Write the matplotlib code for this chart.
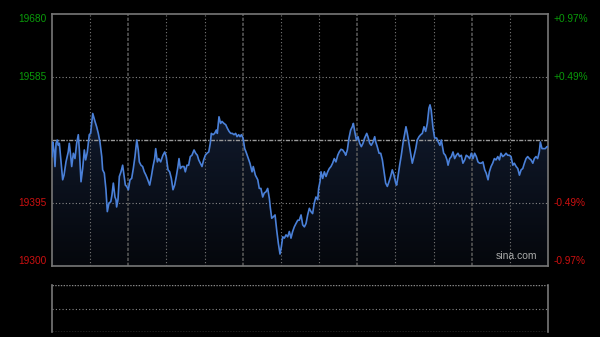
import numpy as np
import matplotlib
matplotlib.use("Agg")
import matplotlib.pyplot as plt
from matplotlib.patches import Polygon

# intraday index trace (minute offset, price)
minutes = [0, 0.5, 1.3, 2.0, 2.7, 3.5, 4.2, 4.9, 5.8, 7.1, 8.0, 9.3, 10.8, 11.5, 12.4, 13.1,
           14.2, 15.3, 16.4, 17.5, 18.2, 19.3, 20.4, 21.5, 22.4, 23.5, 24.8, 25.7, 27.1, 28.6,
           29.7, 30.8, 31.9, 33.1, 33.7, 34.8, 35.9, 36.8, 37.9, 39.1, 39.9, 40.8, 41.9, 42.6,
           43.0, 43.9, 44.8, 45.9, 47.0, 47.9, 48.8, 49.7, 50.8, 51.9, 53.0, 54.1, 55.2, 56.4,
           57.4, 58.1, 59.2, 60.3, 61.4, 62.5, 63.4, 65.0, 66.1, 67.2, 68.3, 69.0, 70.1, 71.0,
           72.3, 73.8, 75.0, 76.0, 77.2, 78.3, 79.4, 80.5, 81.6, 82.7, 83.8, 84.5, 85.4, 86.5,
           87.8, 88.7, 89.8, 90.9, 92.0, 93.1, 94.5, 95.6, 96.7, 97.6, 98.7, 99.8, 100.9, 102.0,
           103.1, 104.3, 105.3, 106.0, 107.1, 108.2, 109.3, 110.0, 111.1, 112.2, 113.1, 114.4,
           115.6, 116.6, 117.8, 118.9, 120.0, 121.1, 122.2, 123.1, 124.2, 125.1, 126.0, 127.1,
           128.2, 129.1, 130.2, 131.7, 133.1, 133.9, 135.3, 136.9, 137.9, 139.0, 140.2, 141.2,
           142.4, 143.5, 144.6, 145.2, 146.2, 147.2, 148.4, 149.5, 150.6, 151.7, 152.6, 153.5,
           154.6, 155.7, 156.8, 157.9, 159.0, 160.1, 161.2, 162.3, 163.5, 164.5, 165.7, 166.8,
           167.9, 169.0, 170.1, 171.2, 172.3, 173.4, 174.5, 175.6, 176.8, 177.4, 178.3, 179.0,
           180.1, 181.2, 182.3, 183.4, 184.5, 185.6, 186.7, 187.8, 188.9, 190.1, 191.1, 192.3,
           193.4, 194.9, 195.4, 196.5, 197.6, 198.7, 199.8, 200.5, 201.4, 202.5, 203.6, 204.7,
           205.8, 206.9, 208.0, 209.4, 210.2, 211.4, 212.4, 213.6, 214.7, 215.4, 216.4, 217.6,
           218.7, 219.8, 220.9, 222.0, 223.1, 224.2, 225.3, 226.4, 227.5, 228.7, 229.3, 230.2,
           231.3, 232.4, 233.5, 234.7, 235.5, 236.4, 237.5, 238.6, 239.7, 240.8, 242.0, 243.0,
           244.2, 245.3, 246.4, 247.5, 248.6, 249.7, 250.8, 251.5, 252.3, 253.5, 254.6, 255.9,
           257.0, 258.1, 259.0, 260.6, 261.7, 262.8, 263.5, 264.6, 265.7, 266.8, 267.9, 269.0,
           270.1, 271.2, 272.3, 273.4, 274.6, 275.6, 276.8, 277.9, 279.0, 280.1, 281.2, 282.3,
           283.4, 284.5, 285.6, 286.7, 287.9, 288.9, 290.1, 291.0, 292.1, 293.2, 294.3, 295.4,
           296.6, 297.7, 298.7, 299.9, 301.0, 302.1, 303.2, 304.3, 305.4, 306.6, 307.6, 308.8,
           309.9, 311.0, 312.1, 313.2, 314.3, 315.4, 316.5, 317.6, 318.7, 319.9, 320.9, 322.0,
           323.1, 324.2, 324.9, 326.0, 327.2, 328.2, 329.3, 330.0]
prices = [19465, 19487, 19475, 19450, 19485, 19490, 19482, 19485, 19462, 19430, 19437, 19457,
          19472, 19485, 19467, 19450, 19470, 19462, 19485, 19498, 19475, 19427, 19447, 19475,
          19460, 19472, 19498, 19500, 19530, 19518, 19510, 19500, 19487, 19465, 19445, 19440,
          19415, 19382, 19395, 19397, 19407, 19425, 19404, 19400, 19389, 19400, 19435, 19442,
          19452, 19437, 19422, 19420, 19415, 19430, 19432, 19447, 19465, 19490, 19475, 19457,
          19452, 19450, 19442, 19437, 19432, 19422, 19435, 19450, 19462, 19477, 19457, 19462,
          19457, 19467, 19472, 19465, 19445, 19442, 19432, 19415, 19422, 19435, 19450, 19462,
          19447, 19450, 19450, 19442, 19452, 19452, 19465, 19467, 19475, 19470, 19467, 19460,
          19455, 19450, 19460, 19467, 19470, 19472, 19485, 19500, 19498, 19500, 19505, 19500,
          19525, 19515, 19518, 19515, 19513, 19508, 19503, 19500, 19500, 19498, 19500, 19495,
          19498, 19495, 19498, 19493, 19477, 19472, 19465, 19455, 19442, 19450, 19437, 19430,
          19417, 19417, 19404, 19410, 19412, 19417, 19402, 19389, 19372, 19374, 19377, 19354,
          19334, 19318, 19329, 19344, 19342, 19347, 19344, 19352, 19342, 19352, 19359, 19364,
          19369, 19369, 19377, 19362, 19359, 19364, 19377, 19387, 19382, 19379, 19395, 19404,
          19400, 19417, 19427, 19442, 19432, 19442, 19435, 19442, 19447, 19450, 19455, 19462,
          19457, 19467, 19472, 19476, 19475, 19470, 19467, 19475, 19493, 19505, 19510, 19515,
          19503, 19490, 19495, 19485, 19480, 19485, 19493, 19500, 19495, 19485, 19482, 19487,
          19495, 19487, 19480, 19470, 19470, 19460, 19442, 19425, 19420, 19427, 19435, 19445,
          19437, 19425, 19422, 19435, 19452, 19467, 19485, 19500, 19510, 19500, 19485, 19470,
          19455, 19465, 19477, 19490, 19495, 19498, 19500, 19510, 19503, 19515, 19538, 19543,
          19535, 19508, 19493, 19493, 19487, 19482, 19490, 19470, 19467, 19460, 19452, 19462,
          19465, 19472, 19462, 19467, 19470, 19465, 19467, 19455, 19460, 19467, 19465, 19462,
          19470, 19462, 19470, 19465, 19457, 19455, 19455, 19457, 19445, 19440, 19430, 19442,
          19450, 19455, 19462, 19460, 19465, 19460, 19470, 19465, 19467, 19470, 19467, 19467,
          19465, 19452, 19455, 19450, 19447, 19437, 19445, 19447, 19455, 19462, 19465, 19462,
          19460, 19455, 19462, 19465, 19462, 19472, 19487, 19477, 19477, 19477, 19480, 19480]

prev_close = 19490
y_ticks = [19680, 19585, 19395, 19300]
y_labels = ["19680", "19585", "19395", "19300"]
pct_labels = ["+0.97%", "+0.49%", "-0.49%", "-0.97%"]
total_minutes = 330
n_cols = 13

fig = plt.figure(figsize=(6, 3.37), dpi=100, facecolor="black")
ax = fig.add_axes([52 / 600, 1 - 266 / 337, 496 / 600, 252 / 337])
ax.set_facecolor("black")
ax.set_xlim(0, total_minutes)
ax.set_ylim(19300, 19680)

# gradient fill under the line
grad = np.linspace(0, 1, 256).reshape(-1, 1)
img = ax.imshow(grad, extent=[0, total_minutes, 19300, max(prices)], aspect="auto",
                cmap=matplotlib.colors.LinearSegmentedColormap.from_list("g", ["#05070c", "#111b2e"]),
                origin="lower", zorder=1)
poly = Polygon(list(zip(minutes, prices)) + [(total_minutes, 19300), (0, 19300)],
               closed=True, facecolor="none", edgecolor="none")
ax.add_patch(poly)
img.set_clip_path(poly)

# grid
for k in range(1, n_cols):
    xk = total_minutes * k / n_cols
    if k % 3 == 2:
        ax.axvline(xk, color="#555555", lw=1.2, ls=(0, (2, 1)), zorder=2)
    else:
        ax.axvline(xk, color="#777777", lw=0.8, ls=(0, (1, 2)), zorder=2)
for yv in [19585, 19395]:
    ax.axhline(yv, color="#888888", lw=0.8, ls=(0, (1, 2)), zorder=2)
ax.axhline(prev_close, color="#999999", lw=1.0, ls=(0, (3, 1, 1, 1)), zorder=2)

ax.plot(minutes, prices, color="#4a80d8", lw=1.2, zorder=3)

for s in ax.spines.values():
    s.set_color("#777777")
    s.set_linewidth(1.2)
ax.set_xticks([])
ax.set_yticks([])

offsets = [-5, 0, 0, 5]
for v, lab, pl, off in zip(y_ticks, y_labels, pct_labels, offsets):
    col = "#0a9a0a" if v > prev_close else "#cc1010"
    ax.annotate(lab, (0, v), xycoords=("axes fraction", "data"), xytext=(-4, off * 0.72),
                textcoords="offset points", ha="right", va="center", color=col,
                fontsize=7.3, family="Liberation Sans")
    ax.annotate(pl, (1, v), xycoords=("axes fraction", "data"), xytext=(4, off * 0.72),
                textcoords="offset points", ha="left", va="center", color=col,
                fontsize=7.3, family="Liberation Sans")

ax.text(0.978, 0.02, "sina.com", transform=ax.transAxes, ha="right", va="bottom",
        color="#aaaaaa", fontsize=7.5, family="Liberation Sans", zorder=4)

# volume panel (empty)
vax = fig.add_axes([52 / 600, 1 - 332 / 337, 496 / 600, 47 / 337])
vax.set_facecolor("black")
vax.set_xlim(0, total_minutes)
vax.set_ylim(0, 2)
vax.set_xticks([])
vax.set_yticks([])
vax.spines["left"].set_color("#777777")
vax.spines["right"].set_color("#777777")
vax.spines["left"].set_linewidth(1.2)
vax.spines["right"].set_linewidth(1.2)
vax.spines["top"].set_visible(False)
vax.spines["bottom"].set_visible(False)
vax.axhline(2, color="#888888", lw=1.0, ls=(0, (1, 1)))
vax.axhline(1, color="#888888", lw=0.8, ls=(0, (1, 2)))
vax.axhline(0.02, color="#999999", lw=1.0, ls=(0, (1, 1)))

fig.savefig("out.png", dpi=100, facecolor="black")
